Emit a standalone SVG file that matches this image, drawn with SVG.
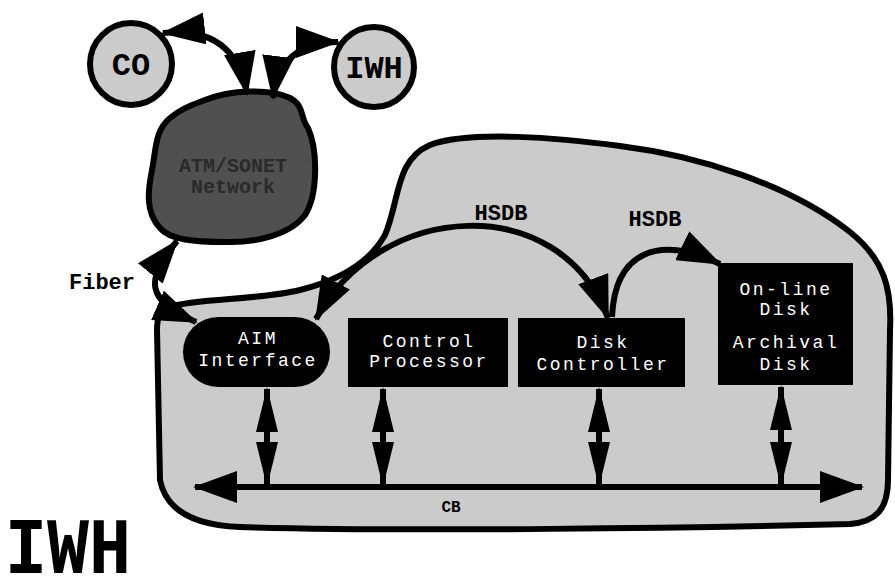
<svg xmlns="http://www.w3.org/2000/svg" width="895" height="578" viewBox="0 0 895 578">
<style>
.bold{font-family:"Liberation Mono","DejaVu Sans Mono",monospace;font-weight:bold;fill:#000}
.box{fill:#000}
.lbl{font-family:"Liberation Mono","DejaVu Sans Mono",monospace;font-size:18px;fill:#fff;text-anchor:middle;letter-spacing:2.5px}
.conn{fill:none;stroke:#000;stroke-width:6}
.light{fill:#cbcbcb;stroke:#000;stroke-width:6}
</style>
<defs>
<marker id="ah" viewBox="0 0 44 32" refX="42" refY="16" markerWidth="44" markerHeight="32" markerUnits="userSpaceOnUse" orient="auto-start-reverse"><path d="M0,0 L44,16 L0,32 Z" fill="#000"/></marker>
<marker id="av" viewBox="0 0 45 22" refX="43" refY="11" markerWidth="45" markerHeight="22" markerUnits="userSpaceOnUse" orient="auto-start-reverse"><path d="M0,0 L45,11 L0,22 Z" fill="#000"/></marker>
</defs>
<rect width="895" height="578" fill="#fff"/>

<g id="region">
<path class="light" d="M167,307 C200,298 260,300 300,290 C340,280 370,262 385,235 C400,200 395,160 430,145 C470,130 560,138 620,146 C700,156 790,185 850,232 C885,260 892,290 890,330 L888,480 C888,510 875,522 850,524 C700,528 400,532 240,527 C185,525 165,505 160,480 L157,330 C157,318 160,310 167,307 Z"/>
</g>

<g id="co">
<circle class="light" cx="131" cy="64" r="41"/>
<text class="bold" x="131" y="75" font-size="32" text-anchor="middle">CO</text>
</g>
<g id="iwh-site">
<circle class="light" cx="374" cy="67" r="40"/>
<text class="bold" x="374" y="78" font-size="32" text-anchor="middle">IWH</text>
</g>
<g id="network">
<path d="M205,100 C230,90 270,88 290,98 C305,106 300,118 308,128 C318,150 318,195 305,215 C290,235 255,243 225,242 C195,242 170,240 160,228 C145,212 148,190 152,170 C156,150 155,130 170,118 C182,108 192,105 205,100 Z" fill="#505050" stroke="#000" stroke-width="6"/>
<text class="bold" x="233" y="172" font-size="20" text-anchor="middle" style="fill:#2a2a2a">ATM/SONET</text>
<text class="bold" x="233" y="193" font-size="20" text-anchor="middle" style="fill:#2a2a2a">Network</text>
</g>

<g id="aim">
<rect x="183" y="317" width="147" height="70" rx="35" class="box"/>
<text class="lbl" x="258" y="344">AIM</text>
<text class="lbl" x="258" y="366">Interface</text>
</g>
<g id="cp">
<rect x="348" y="318" width="160" height="69" class="box"/>
<text class="lbl" x="429" y="347">Control</text>
<text class="lbl" x="429" y="367">Processor</text>
</g>
<g id="dc">
<rect x="518" y="318" width="167" height="69" class="box"/>
<text class="lbl" x="603" y="348">Disk</text>
<text class="lbl" x="603" y="370">Controller</text>
</g>
<g id="disks">
<rect x="718" y="263" width="135" height="122" class="box"/>
<text class="lbl" x="786" y="295">On-line</text>
<text class="lbl" x="786" y="315">Disk</text>
<text class="lbl" x="786" y="348">Archival</text>
<text class="lbl" x="786" y="370">Disk</text>
</g>

<g id="connectors">
<path class="conn" d="M163,33 Q235,25 247,94" marker-start="url(#ah)" marker-end="url(#ah)"/>
<path class="conn" d="M338,42 Q280,42 273,98" marker-start="url(#ah)" marker-end="url(#ah)"/>
<path class="conn" d="M177,241 C145,280 145,300 196,322" marker-start="url(#ah)" marker-end="url(#ah)"/>
<path class="conn" d="M316,319 C380,200 560,190 608,318" marker-start="url(#ah)" marker-end="url(#ah)"/>
<path class="conn" d="M612,317 C615,250 660,235 720,264" marker-end="url(#ah)"/>
<path class="conn" d="M267,389 L267,485" marker-start="url(#av)" marker-end="url(#av)"/>
<path class="conn" d="M383,389 L383,485" marker-start="url(#av)" marker-end="url(#av)"/>
<path class="conn" d="M599,389 L599,485" marker-start="url(#av)" marker-end="url(#av)"/>
<path class="conn" d="M781,387 L781,485" marker-start="url(#av)" marker-end="url(#av)"/>
<path class="conn" d="M195,487 L862,487" marker-start="url(#ah)" marker-end="url(#ah)"/>
</g>

<g id="labels">
<text class="bold" x="501" y="220" font-size="22" text-anchor="middle">HSDB</text>
<text class="bold" x="655" y="226" font-size="22" text-anchor="middle">HSDB</text>
<text class="bold" x="102" y="289" font-size="22" text-anchor="middle">Fiber</text>
<text class="bold" x="451" y="512" font-size="16" text-anchor="middle">CB</text>
<text class="bold" x="5" y="573" font-size="80" textLength="126" lengthAdjust="spacingAndGlyphs">IWH</text>
</g>
</svg>
